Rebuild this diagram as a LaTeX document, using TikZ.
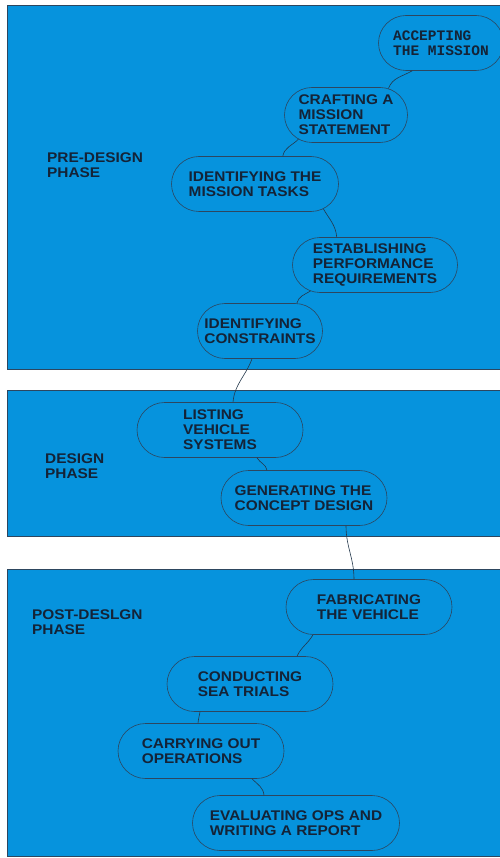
\documentclass[tikz,border=0pt]{standalone}
\usepackage{fontspec}
\setmainfont{Liberation Sans}[FakeStretch=1.1]
\newfontfamily\monofont{Liberation Mono}
\usetikzlibrary{shapes.misc}
\definecolor{phaseblue}{RGB}{6,147,221}
\definecolor{edgegray}{RGB}{45,70,95}
\definecolor{textnavy}{RGB}{20,35,55}

\begin{document}
\begin{tikzpicture}[x=1pt,y=-1pt]
\tikzset{phase/.style={fill=phaseblue,draw=edgegray,line width=0.8pt}}
\tikzset{phase label/.style={anchor=west,align=left,inner sep=0pt,text=textnavy,font=\fontsize{14}{15}\selectfont\bfseries}}
\tikzset{task/.style={rounded rectangle,draw=edgegray,line width=0.6pt,minimum height=55pt,inner sep=0pt,align=left,text=textnavy,font=\fontsize{14}{15}\selectfont\bfseries}}
\tikzset{link/.style={draw=edgegray!80!black,line width=0.6pt}}

\useasboundingbox (0,0) rectangle (499,858);

\draw[phase] (7,5) rectangle (501,369);
\draw[phase] (7,390) rectangle (501,536);
\draw[phase] (7,569) rectangle (501,856);

\node[phase label] (pre) at (47,165) {PRE-DESIGN\\PHASE};
\node[phase label] (des) at (45,466) {DESIGN\\PHASE};
\node[phase label] (post) at (32,622) {POST-DESLGN\\PHASE};

\node[task,minimum width=125pt,font=\fontsize{14.5}{15}\selectfont\monofont\bfseries] (accept) at (441,43) {ACCEPTING\\THE MISSION};
\node[task,minimum width=123pt] (craft) at (346,115) {CRAFTING A\\MISSION\\STATEMENT};
\node[task,minimum width=167pt] (tasks) at (255,184) {IDENTIFYING THE\\MISSION TASKS};
\node[task,minimum width=165pt] (estab) at (375,265) {ESTABLISHING\\PERFORMANCE\\REQUIREMENTS};
\node[task,minimum width=125pt] (constr) at (260,331) {IDENTIFYING\\CONSTRAINTS};
\node[task,minimum width=166pt] (listing) at (220,430) {LISTING\\VEHICLE\\SYSTEMS};
\node[task,minimum width=166pt] (gen) at (304,498) {GENERATING THE\\CONCEPT DESIGN};
\node[task,minimum width=166pt] (fab) at (369,607) {FABRICATING\\THE VEHICLE};
\node[task,minimum width=166pt] (cond) at (250,684) {CONDUCTING\\SEA TRIALS};
\node[task,minimum width=166pt] (carry) at (201,751) {CARRYING OUT\\OPERATIONS};
\node[task,minimum width=207pt] (eval) at (296,823) {EVALUATING OPS AND\\WRITING A REPORT};

\draw[link] (accept.224) to[out=210,in=70] (craft.32);
\draw[link] (craft.207) to[out=225,in=80] (tasks.45);
\draw[link] (tasks.340) to[out=-60,in=95] (estab.144);
\draw[link] (estab.202) to[out=210,in=75] (constr.37);
\draw[link] ([xshift=-8pt]constr.south) to[out=-110,in=85] ([xshift=13pt]listing.north);
\draw[link] ([xshift=37pt]listing.south) to[out=-60,in=100] ([xshift=-37pt]gen.north);
\draw[link] ([xshift=42pt]gen.south) to[out=-90,in=90] ([xshift=-15pt]fab.north);
\draw[link] ([xshift=-56pt]fab.south) to[out=-120,in=65] ([xshift=47pt]cond.north);
\draw[link] ([xshift=-50pt]cond.south) to[out=-100,in=85] ([xshift=-3pt]carry.north);
\draw[link] ([xshift=51pt]carry.south) to[out=-45,in=95] ([xshift=-32pt]eval.north);

\end{tikzpicture}
\end{document}
